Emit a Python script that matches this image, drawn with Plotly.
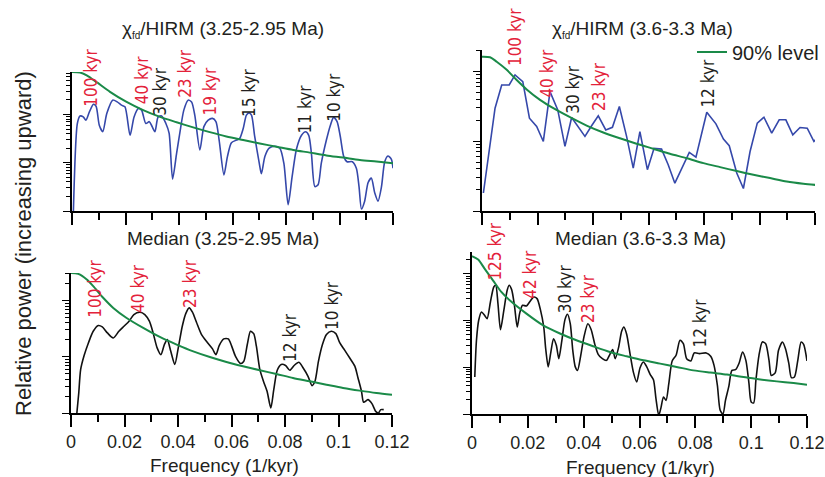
import plotly.graph_objects as go

# ---------------- data ----------------
tl_freq = [0.0005,0.002,0.003,0.0042,0.0052,0.0065,0.008,0.009,0.0102,0.0115,0.013,0.0152,0.0169,0.0185,0.0198,0.0217,0.0232,0.0248,0.026,0.0276,0.0289,0.0299,0.031,0.0322,0.0335,0.0351,0.0363,0.0376,0.0391,0.0403,0.0418,0.0434,0.0447,0.0459,0.0478,0.0493,0.0509,0.0525,0.0538,0.055,0.0568,0.0581,0.0596,0.0615,0.0627,0.064,0.0652,0.0662,0.0671,0.0683,0.07,0.0708,0.0721,0.0737,0.0758,0.0777,0.0792,0.0808,0.0823,0.0839,0.0858,0.0873,0.0885,0.0895,0.0908,0.092,0.0932,0.0951,0.0966,0.0978,0.0991,0.1003,0.1016,0.1028,0.1048,0.1063,0.1073,0.1082,0.1094,0.1107,0.1119,0.1132,0.1144,0.1157,0.1169,0.1181,0.1194,0.12]
tl_power = [0.9,65,93,89,76,113,163,148,60,44,105,198,182,156,144,37,89,133,123,65,71,57,44,89,93,65,41,4.6,15.7,41,123,198,182,97,18.4,56,76,83,71,29.5,5.6,13.4,26,29.5,32,51,97,108,97,35,9.8,5.9,13.4,20,22,20,9.8,1.35,5.2,19,37,44,37,15.7,3.2,3.5,9.8,29.5,60,87,71,35,13.4,10.5,10.5,7.7,3.2,1.1,1.6,3.9,4.8,2.35,1.6,3.2,10.5,13.8,11.8,7.7]
tl_lvl_freq = [0,0.003,0.0055,0.0092,0.0142,0.0204,0.0266,0.0329,0.0391,0.0453,0.0515,0.0577,0.064,0.0702,0.0764,0.0827,0.0889,0.0951,0.1013,0.1076,0.1138,0.12]
tl_lvl = [759,741,646,468,295,182,123,89,69,54,43,35,29.5,25,21.5,18.4,16.2,14.2,12.8,11.4,10.6,9.8]

tr_freq = [0.0005,0.0047,0.0071,0.0098,0.0119,0.0147,0.0171,0.0197,0.0221,0.0245,0.0273,0.0299,0.0323,0.0347,0.0371,0.0395,0.0419,0.0446,0.047,0.0495,0.0521,0.0545,0.0569,0.0596,0.062,0.0647,0.0671,0.0695,0.0719,0.0747,0.0771,0.081,0.0843,0.087,0.0891,0.0918,0.0942,0.0966,0.0992,0.1016,0.1044,0.1071,0.1095,0.112,0.1146,0.1172,0.1196,0.1218]
tr_power = [1.81,29.6,63.8,63.8,88.7,71.2,21.3,16.2,9.9,51.2,28,8.4,21.8,16.2,11.7,16.6,23,14.5,15.8,31.3,11.7,4.1,13.7,3.9,7.9,7.7,4.6,2.5,4.1,6.9,5.9,25.9,17.7,10.7,8.6,3.5,2.1,7.1,18.1,22,13,20.2,20.2,12.3,15.7,15.3,9.9,12.3]
tr_lvl_freq = [0,0.0029,0.0053,0.0089,0.0125,0.0161,0.0209,0.0257,0.0317,0.0377,0.0437,0.0497,0.0557,0.0617,0.0677,0.0738,0.0798,0.0858,0.0918,0.0978,0.1038,0.1098,0.1158,0.1218]
tr_lvl = [162,159,137,105,75,55,39,29.6,22,16.7,13.3,11,9.2,7.8,6.6,5.7,4.85,4.25,3.73,3.3,2.96,2.65,2.46,2.33]

bl_freq = [0.0021,0.0029,0.0036,0.0049,0.0065,0.0083,0.0102,0.0117,0.0136,0.0158,0.0179,0.0198,0.0217,0.0235,0.0258,0.0276,0.0293,0.0307,0.0322,0.0336,0.0349,0.036,0.0373,0.0388,0.0401,0.0416,0.0429,0.0442,0.0454,0.0469,0.0488,0.0509,0.0529,0.0542,0.0554,0.0571,0.0588,0.06,0.0615,0.0634,0.0646,0.0659,0.0671,0.0683,0.0693,0.0706,0.0721,0.0733,0.0747,0.0758,0.0771,0.0786,0.0802,0.0818,0.0834,0.0852,0.0868,0.0886,0.0901,0.0912,0.0925,0.094,0.0955,0.0973,0.099,0.1005,0.1023,0.1042,0.1061,0.1073,0.1086,0.1094,0.111,0.1125,0.1139,0.1149,0.1158,0.1169]
bl_power = [0.9,2.27,5.9,10.5,17.6,28.4,35.9,34,26.6,21.6,28.4,34.9,42.9,56.4,62,56.4,42.9,26.6,14.4,10.9,16.5,20.2,12.5,7.3,14.4,34.9,58.7,74,62,41.1,24.8,18.1,13.8,10.9,15.8,20.8,20.8,15.8,10.2,7.6,8.3,16.5,28.4,25.8,15.4,5.9,3.5,2.43,1.23,2.6,5.75,7.3,7,5.75,7,8,6.3,4.5,3.07,3.66,8.3,16.5,24.8,28.4,25.8,17.6,13.1,9.5,6.8,4.2,2.43,1.55,1.73,1.47,1.07,1.0,1.15,1.15]
bl_lvl_freq = [0,0.0027,0.0059,0.0083,0.0121,0.0158,0.0208,0.027,0.0332,0.0395,0.0457,0.0519,0.0581,0.0643,0.0706,0.0768,0.083,0.0893,0.0955,0.1017,0.1079,0.1142,0.12]
bl_lvl = [310,298,237,180,111,74,49,32.6,22.5,16.5,12.5,9.9,8.1,6.8,5.75,4.94,4.2,3.66,3.19,2.79,2.5,2.27,2.12]

br_freq = [0.001,0.0016,0.0024,0.0034,0.0045,0.0054,0.0066,0.0078,0.0085,0.0093,0.0102,0.0114,0.0126,0.0133,0.0142,0.0152,0.0162,0.0171,0.0181,0.0195,0.0209,0.0221,0.0233,0.0245,0.0257,0.0264,0.0273,0.0282,0.0292,0.0302,0.0311,0.0322,0.0333,0.0342,0.0352,0.0361,0.037,0.0378,0.0389,0.0401,0.0415,0.0427,0.044,0.0452,0.0467,0.0482,0.0494,0.0504,0.0513,0.0525,0.0536,0.0544,0.0554,0.0566,0.0578,0.059,0.0602,0.0614,0.0626,0.0638,0.065,0.0659,0.0669,0.0677,0.0686,0.0695,0.0705,0.0717,0.0731,0.0745,0.0757,0.0769,0.0784,0.0796,0.0815,0.0839,0.0855,0.0867,0.0879,0.0889,0.0899,0.0908,0.092,0.0931,0.0944,0.0957,0.0969,0.0981,0.0992,0.1,0.1009,0.1017,0.1028,0.104,0.1052,0.1064,0.1072,0.1086,0.1098,0.1112,0.1123,0.1135,0.1144,0.1155,0.1167,0.1179,0.1188,0.12]
br_power = [6.2,37.9,102,153,130,110,251,526,571,231,64,166,447,571,461,213,73,146,213,206,264,321,296,172,73,25,10.2,20.3,41,29.6,15.3,37.9,105,137,86,23,10.2,8.6,17.2,44.7,86,64,31,19,15.3,14.1,19,23.9,15.3,26.4,59,73,51,19.6,7.9,4.85,9.8,13,10.2,7.1,5.4,2.13,0.93,1.37,2.31,1.96,4.47,13.7,18.1,37.9,32.1,15.3,13.7,20.3,19.6,20.3,17.2,11,4.1,1.2,1.0,1.96,3.9,8.6,8.9,12.4,21.3,14.1,4.6,1.81,1.72,5.3,18.1,34.9,32.1,14.1,6.7,7.6,23.1,34.9,25.1,12,6,6.2,14.1,34.9,31.1,13.7]
br_lvl_freq = [0,0.0022,0.0045,0.0075,0.0105,0.0135,0.0195,0.0255,0.0315,0.0374,0.0434,0.0494,0.0554,0.0614,0.0674,0.0733,0.0793,0.0853,0.0913,0.0973,0.1033,0.1092,0.1152,0.12]
br_lvl = [2390,2030,1300,731,411,273,141,79,53,37.9,28.2,21.3,17.2,14.1,12,10.2,8.6,7.7,7,6.2,5.5,5,4.6,4.25]

SUB = "<sub><span style='font-size:10px'>fd</span></sub>"
panel_titles = ["χ" + SUB + "/HIRM (3.25-2.95 Ma)", "χ" + SUB + "/HIRM (3.6-3.3 Ma)",
                "Median (3.25-2.95 Ma)", "Median (3.6-3.3 Ma)"]
x_ticks = [0, 0.02, 0.04, 0.06, 0.08, 0.1, 0.12]
x_tick_text = ["0", "0.02", "0.04", "0.06", "0.08", "0.1", "0.12"]

# peak labels: text, frequency, orbital (red) or not
tl_labels = [("100 kyr", 0.0073, True), ("40 kyr", 0.026, True), ("30 kyr", 0.0329, False),
             ("23 kyr", 0.0422, True), ("19 kyr", 0.0515, True), ("15 kyr", 0.0659, False),
             ("11 kyr", 0.087, False), ("10 kyr", 0.0978, False)]
tr_labels = [("100 kyr", 0.0119, True), ("40 kyr", 0.0235, True), ("30 kyr", 0.0329, False),
             ("23 kyr", 0.0419, True), ("12 kyr", 0.0816, False)]
bl_labels = [("100 kyr", 0.009, True), ("40 kyr", 0.0251, True), ("23 kyr", 0.0444, True),
             ("12 kyr", 0.0818, False), ("10 kyr", 0.0973, False)]
br_labels = [("125 kyr", 0.0081, True), ("42 kyr", 0.0207, True), ("30 kyr", 0.0336, False),
             ("23 kyr", 0.0413, True), ("12 kyr", 0.0815, False)]

# label vertical placements (log10 units on each panel's axis)
tl_label_pos = [2.75, 2.72, 2.47, 2.86, 2.49, 2.45, 2.12, 2.36]
tr_label_pos = [2.49, 1.97, 1.74, 1.78, 1.83]
bl_label_pos = [2.21, 2.21, 2.31, 1.35, 1.91]
br_label_pos = [3.47, 3.0, 2.69, 2.47, 1.95]

# ---------------- style ----------------
BLUE = "#3548aa"
GREEN = "#1a8a48"
RED = "#e3223a"
TXT = "#231f20"
FONT = "Liberation Sans, Arial, sans-serif"
NARROW = "Liberation Sans Narrow, Arial Narrow, DejaVu Sans Condensed, sans-serif"

fig = go.Figure()

y_tops = [2.88, 2.305, 2.49, 3.47]
panels = [
    ("x", "y", tl_freq, tl_power, BLUE, tl_lvl_freq, tl_lvl, "spline", tl_labels, tl_label_pos),
    ("x2", "y2", tr_freq, tr_power, BLUE, tr_lvl_freq, tr_lvl, "linear", tr_labels, tr_label_pos),
    ("x3", "y3", bl_freq, bl_power, "#111111", bl_lvl_freq, bl_lvl, "spline", bl_labels, bl_label_pos),
    ("x4", "y4", br_freq, br_power, "#111111", br_lvl_freq, br_lvl, "spline", br_labels, br_label_pos),
]

annotations = []
for i, (xa, ya, fx, py, col, lf, lv, shape, labels, lpos) in enumerate(panels):
    fig.add_trace(go.Scatter(x=fx, y=py, mode="lines", xaxis=xa, yaxis=ya,
                             line=dict(color=col, width=1.6, shape=shape, smoothing=0.7),
                             showlegend=False, hoverinfo="skip"))
    fig.add_trace(go.Scatter(x=lf, y=lv, mode="lines", xaxis=xa, yaxis=ya,
                             line=dict(color=GREEN, width=2, shape="spline", smoothing=0.8),
                             name="90% level", showlegend=(i == 1), hoverinfo="skip"))
    for (txt, f, orb), yp in zip(labels, lpos):
        annotations.append(dict(x=f, y=yp / y_tops[i], xref=xa, yref=ya + " domain", text=txt,
                                textangle=-90, showarrow=False, xanchor="center",
                                yanchor="middle",
                                font=dict(family=NARROW, size=17, color=RED if orb else TXT)))

# panel titles (positions in pixels -> paper)
W, H = 825, 477
title_pos = [(223, 30), (642, 30), (223, 238), (640, 238)]
for t, (px, py_) in zip(panel_titles, title_pos):
    annotations.append(dict(x=px / W, y=1 - py_ / H, xref="paper", yref="paper", text=t,
                            showarrow=False, xanchor="center", yanchor="middle",
                            font=dict(family=FONT, size=19, color=TXT)))
for px, py_ in [(224, 465), (640, 467)]:
    annotations.append(dict(x=px / W, y=1 - py_ / H, xref="paper", yref="paper",
                            text="Frequency (1/kyr)", showarrow=False,
                            xanchor="center", yanchor="middle",
                            font=dict(family=FONT, size=19, color=TXT)))
annotations.append(dict(x=23 / W, y=1 - 244 / H, xref="paper", yref="paper",
                        text="Relative power (increasing upward)", textangle=-90,
                        showarrow=False, xanchor="center", yanchor="middle",
                        font=dict(family=FONT, size=22, color=TXT)))

def xax(dom, labels):
    return dict(domain=dom, range=[0, 0.12], showline=True, linecolor="black", linewidth=1.5,
                ticks="outside", ticklen=12, tickwidth=1.5, tickcolor="black",
                tickvals=x_ticks, ticktext=x_tick_text, showticklabels=labels,
                tickfont=dict(family=FONT, size=18, color=TXT),
                minor=dict(dtick=0.01, tick0=0, ticks="outside", ticklen=7, tickwidth=1.5,
                           tickcolor="black", showgrid=False),
                showgrid=False, zeroline=False, fixedrange=True)

def yax(dom, top, anchor):
    return dict(domain=dom, type="log", range=[0, top], anchor=anchor, showline=True,
                linecolor="black", linewidth=1.5, ticks="outside", ticklen=7, tickwidth=1.2,
                tickcolor="black", dtick=1, showticklabels=False, showgrid=False, zeroline=False,
                fixedrange=True,
                minor=dict(ticks="outside", ticklen=4, tickwidth=1, tickcolor="black",
                           showgrid=False))

fig.update_layout(
    width=W, height=H, margin=dict(l=0, r=0, t=0, b=0, autoexpand=False),
    paper_bgcolor="white", plot_bgcolor="white",
    xaxis=dict(xax([72 / W, 393 / W], False), anchor="y"),
    yaxis=yax([1 - 211 / H, 1 - 72 / H], y_tops[0], "x"),
    xaxis2=dict(xax([482 / W, 815 / W], False), anchor="y2"),
    yaxis2=yax([1 - 211 / H, 1 - 50 / H], y_tops[1], "x2"),
    xaxis3=dict(xax([71 / W, 392 / W], True), anchor="y3"),
    yaxis3=yax([1 - 413 / H, 1 - 273 / H], y_tops[2], "x3"),
    xaxis4=dict(xax([472 / W, 807 / W], True), anchor="y4"),
    yaxis4=yax([1 - 414 / H, 1 - 252 / H], y_tops[3], "x4"),
    annotations=annotations,
    showlegend=True,
    legend=dict(x=692 / W, y=1 - 52 / H, xanchor="left", yanchor="middle",
                bgcolor="rgba(0,0,0,0)", font=dict(family=FONT, size=20, color=TXT),
                itemwidth=30, tracegroupgap=0),
)

css_js = ("var s=document.createElement('style');"
          "s.innerHTML='html,body{margin:0;padding:0;overflow:hidden;}';"
          "document.head.appendChild(s);")
fig.write_html("out.html", config={"displayModeBar": False, "responsive": False},
               post_script=css_js)
